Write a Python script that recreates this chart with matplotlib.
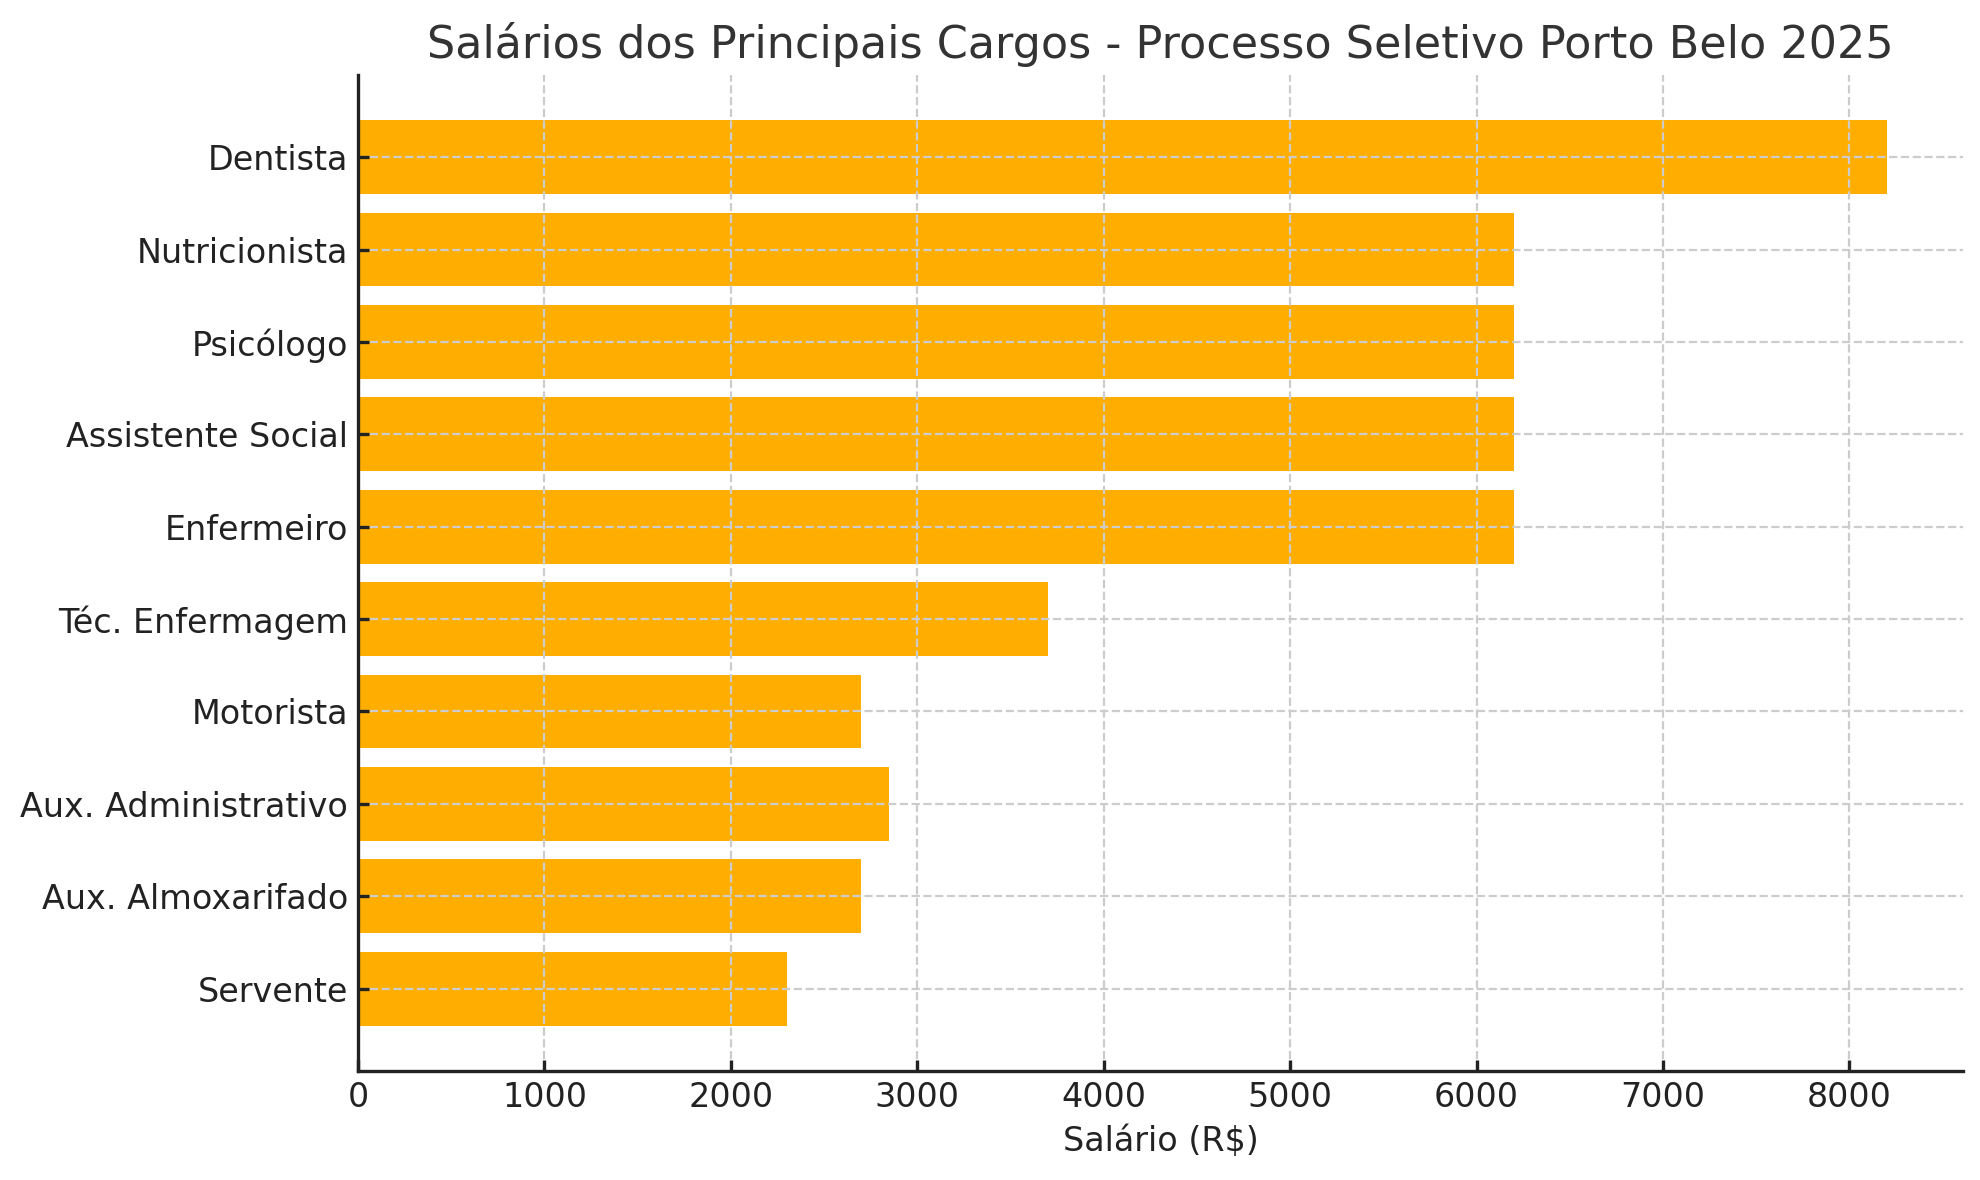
import matplotlib
matplotlib.use("Agg")
import matplotlib.pyplot as plt

cargos = ["Dentista", "Nutricionista", "Psicólogo", "Assistente Social", "Enfermeiro",
          "Téc. Enfermagem", "Motorista", "Aux. Administrativo", "Aux. Almoxarifado", "Servente"]
salarios = [8200, 6200, 6200, 6200, 6200, 3700, 2700, 2850, 2700, 2300]
xticks = [0, 1000, 2000, 3000, 4000, 5000, 6000, 7000, 8000]

plt.rcParams['font.family'] = ['DejaVu Sans']
fig, ax = plt.subplots(figsize=(9.9, 5.9), dpi=200)
fig.subplots_adjust(left=0.1808, right=0.9915, top=0.9365, bottom=0.0925)

ax.barh(cargos, salarios, color='#FFAE00', height=0.8)
ax.invert_yaxis()
ax.set_xticks(xticks)
ax.grid(True, linestyle='--', color='#cccccc', linewidth=0.8)
ax.set_axisbelow(False)
for s in ['top', 'right']:
    ax.spines[s].set_visible(False)
for s in ['left', 'bottom']:
    ax.spines[s].set_color('#222222')
    ax.spines[s].set_linewidth(1.2)
    ax.spines[s].set_zorder(5)
ax.tick_params(axis='both', labelsize=12, colors='#222222', length=4,
               direction='in', width=1.2)
ax.set_xlabel('Salário (R$)', fontsize=12, color='#222222')
ax.set_title('Salários dos Principais Cargos - Processo Seletivo Porto Belo 2025',
             fontsize=16, color='#333333')

fig.savefig('out.png', dpi=200)
